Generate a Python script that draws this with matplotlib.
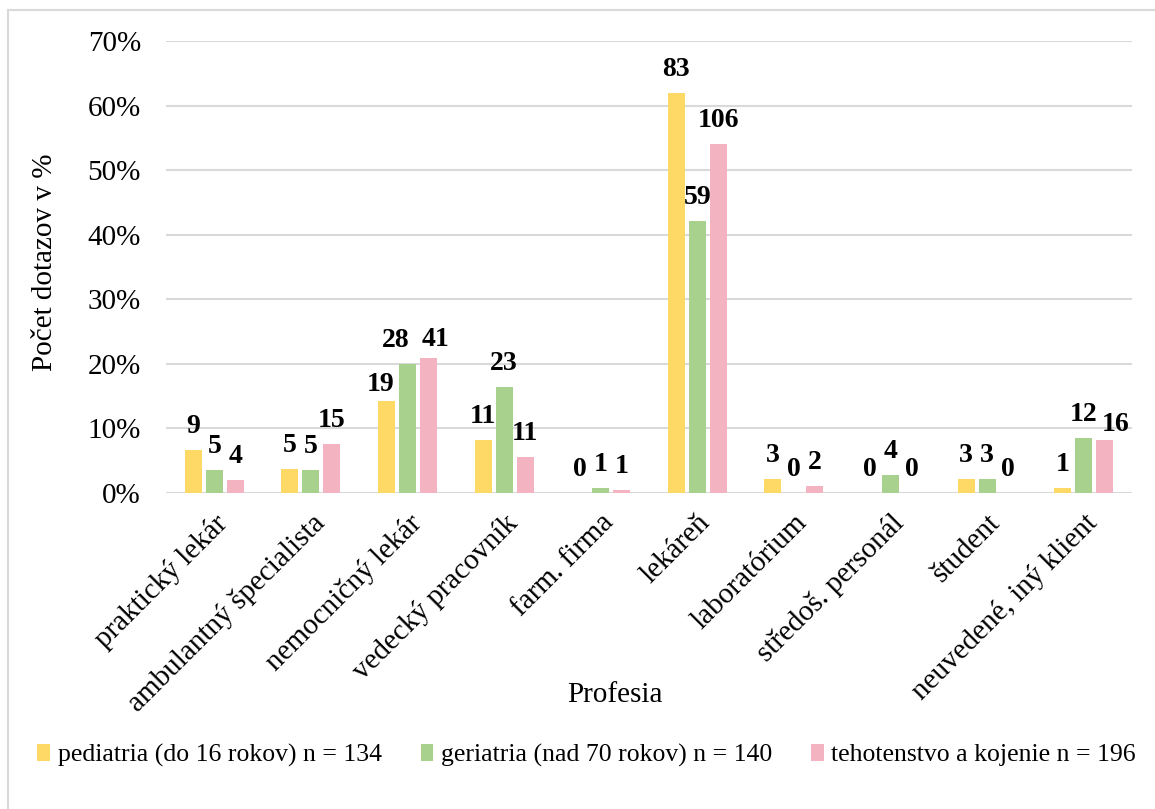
import matplotlib
matplotlib.use("Agg")
import matplotlib.pyplot as plt
from matplotlib.patches import Rectangle
from matplotlib.ticker import PercentFormatter
import numpy as np

plt.rcParams['font.family'] = ['Liberation Serif', 'DejaVu Serif']

# Professions of the people who sent a query
professions = [
    "praktický lekár", "ambulantný špecialista", "nemocničný lekár",
    "vedecký pracovník", "farm. firma", "lekáreň", "laboratórium",
    "středoš. personál", "študent", "neuvedené, iný klient",
]

# Number of queries per profession, one list per patient group
pediatria = [9, 5, 19, 11, 0, 83, 3, 0, 3, 1]
geriatria = [5, 5, 28, 23, 1, 59, 0, 4, 3, 12]
tehotenstvo = [4, 15, 41, 11, 1, 106, 2, 0, 0, 16]

group_n = [134, 140, 196]
group_names = [
    "pediatria (do 16 rokov) n = 134",
    "geriatria (nad 70 rokov) n = 140",
    "tehotenstvo a kojenie n = 196",
]
colors = ["#FFD966", "#A9D18E", "#F4B3C0"]

# labels nudged by hand so crowded numbers don't collide: (group, category) -> (dx, dy) in px
label_nudge = {
    (0, 2): (-6, -7),
    (1, 2): (-12, 0),
    (2, 2): (7, -5),
    (2, 9): (11, -8),
}

W, H = 1155, 809
fig = plt.figure(figsize=(W / 100, H / 100), dpi=100)
ax = fig.add_axes([166 / W, 1 - 493 / H, (1132 - 166) / W, (493 - 41) / H])

# outer frame of the chart area (only top and left edge fall inside the image)
fig.patches.append(Rectangle((8 / W, -0.05), 1.2, 1.05 - 10 / H,
                             transform=fig.transFigure, fill=False,
                             edgecolor="#D9D9D9", linewidth=1.5, zorder=0))

x = np.arange(len(professions))
width = 0.176
step = 0.217
px2pt = 0.72

for i, (counts, n) in enumerate(zip([pediatria, geriatria, tehotenstvo], group_n)):
    pct = np.array(counts) / n
    pos = x + (i - 1) * step
    ax.bar(pos, pct, width=width, color=colors[i], label=group_names[i], zorder=3)
    for j, (px, py, c) in enumerate(zip(pos, pct, counts)):
        dx, dy = label_nudge.get((i, j), (0, 0))
        ax.annotate(str(c), (px, py), xytext=(dx * px2pt, (17 + dy) * px2pt),
                    textcoords="offset points", ha="center", va="baseline",
                    fontsize=20, fontweight="bold", zorder=4)

ax.set_xlim(-0.5, len(professions) - 0.5)
ax.set_ylim(0, 0.7)
ax.set_yticks(np.arange(0, 0.71, 0.1))
ax.yaxis.set_major_formatter(PercentFormatter(1.0, decimals=0))
ax.grid(axis="y", color="#D9D9D9", linewidth=1.5, zorder=0)
for s in ax.spines.values():
    s.set_visible(False)
ax.tick_params(axis="both", length=0, labelsize=21)
ax.tick_params(axis="y", pad=18)

ax.set_xticks(x)
ax.set_xticklabels(professions, rotation=45, ha="right", rotation_mode="anchor",
                   fontsize=21)
ax.tick_params(axis="x", pad=12)

ax.set_ylabel("Počet dotazov v %", fontsize=21)
ax.yaxis.set_label_coords(-0.112, 0.51)
ax.set_xlabel("Profesia", fontsize=21)
ax.xaxis.set_label_coords(0.465, -0.418)

fig.legend(loc="center", bbox_to_anchor=(0.508, 1 - 755 / H), ncol=3,
           frameon=False, fontsize=18.5, handlelength=0.5, handleheight=0.65,
           handletextpad=0.3, columnspacing=1.5)

fig.savefig("out.png", dpi=100, facecolor="white")
